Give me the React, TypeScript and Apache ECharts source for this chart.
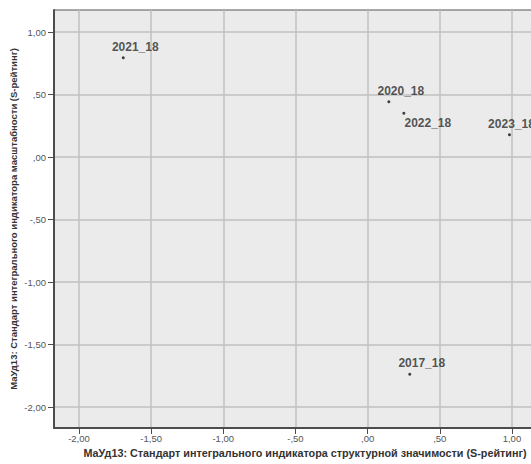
import React, { useEffect, useRef } from "react";
import * as echarts from "echarts";

const pointNames = ["2021_18", "2020_18", "2022_18", "2023_18", "2017_18"];
const xValues = [-1.693, 0.147, 0.251, 0.983, 0.292];
const yValues = [0.794, 0.442, 0.35, 0.178, -1.738];
const xTicks = [-2.0, -1.5, -1.0, -0.5, 0.0, 0.5, 1.0];
const yTicks = [-2.0, -1.5, -1.0, -0.5, 0.0, 0.5, 1.0];
const xTitle = "МаУд13: Стандарт интегрального индикатора структурной значимости (S-рейтинг)";
const yTitle = "МаУд13: Стандарт интегрального индикатора масштабности (S-рейтинг)";

const FONT = "'Liberation Sans Narrow', 'Liberation Sans', Arial, sans-serif";

function fmt(v: number): string {
  const s = Math.abs(v).toFixed(2).replace(".", ",");
  const t = s.startsWith("0,") ? s.slice(1) : s;
  return (v < 0 ? "-" : "") + t;
}

export default function App() {
  const ref = useRef<HTMLDivElement>(null);
  useEffect(() => {
    if (!ref.current) return;
    const chart = echarts.init(ref.current, undefined, { renderer: "svg" });
    const data = pointNames.map((n, i) => ({
      name: n,
      value: [xValues[i], yValues[i]],
      label:
        n === "2022_18"
          ? { offset: [24, 10] }
          : n === "2023_18"
          ? { offset: [2, -11] }
          : { offset: [12, -11] },
    }));
    const axisCommon = {
      type: "value" as const,
      axisLine: { show: true, onZero: false, lineStyle: { color: "#4d4d4d", width: 2 } },
      axisTick: { show: true, length: 6, lineStyle: { color: "#4d4d4d", width: 1 } },
      splitLine: { show: true, lineStyle: { color: "#c0c0c0", width: 1.5 } },
      axisLabel: {
        color: "#555",
        fontSize: 9.5,
        fontFamily: FONT,
        formatter: (v: number) => fmt(v),
      },
      nameTextStyle: {
        fontFamily: FONT,
        fontWeight: "bold" as const,
        fontSize: 9.5,
        color: "#333",
      },
    };
    chart.setOption({
      animation: false,
      backgroundColor: "#ffffff",
      grid: {
        left: 54,
        top: 10,
        right: 12,
        bottom: 36,
        outerBoundsMode: "none",
        containLabel: false,
        show: true,
        backgroundColor: "#ebebeb",
        borderColor: "#555",
        borderWidth: 1,
      },
      xAxis: {
        ...axisCommon,
        min: -2.173,
        max: 1.25,
        axisTick: { ...axisCommon.axisTick, customValues: xTicks },
        axisLabel: { ...axisCommon.axisLabel, customValues: xTicks, margin: 5 },
        name: xTitle,
        nameLocation: "middle",
        nameGap: 19,
        nameMoveOverlap: false,
        nameTextStyle: { ...axisCommon.nameTextStyle, fontSize: 10.8, padding: [0, 0, 0, 8] },
      },
      yAxis: {
        ...axisCommon,
        min: -2.168,
        max: 1.176,
        axisTick: { ...axisCommon.axisTick, customValues: yTicks },
        axisLabel: { ...axisCommon.axisLabel, customValues: yTicks, margin: 8 },
        name: yTitle,
        nameLocation: "middle",
        nameGap: 36,
        nameMoveOverlap: false,
      },
      series: [
        {
          type: "scatter",
          symbol: "circle",
          symbolSize: 3,
          itemStyle: { color: "#111" },
          data,
          label: {
            show: true,
            position: "inside",
            formatter: (p: any) => p.name,
            color: "#2a2a2a",
            fontFamily: FONT,
            fontWeight: "bold",
            fontSize: 12,
          },
        },
      ],
    });
    return () => chart.dispose();
  }, []);
  return (
    <div
      style={{
        position: "fixed",
        left: 0,
        top: 0,
        width: 531,
        height: 464,
        overflow: "hidden",
        background: "#fff",
      }}
    >
      <div ref={ref} style={{ width: 560, height: 464 }} />
    </div>
  );
}
